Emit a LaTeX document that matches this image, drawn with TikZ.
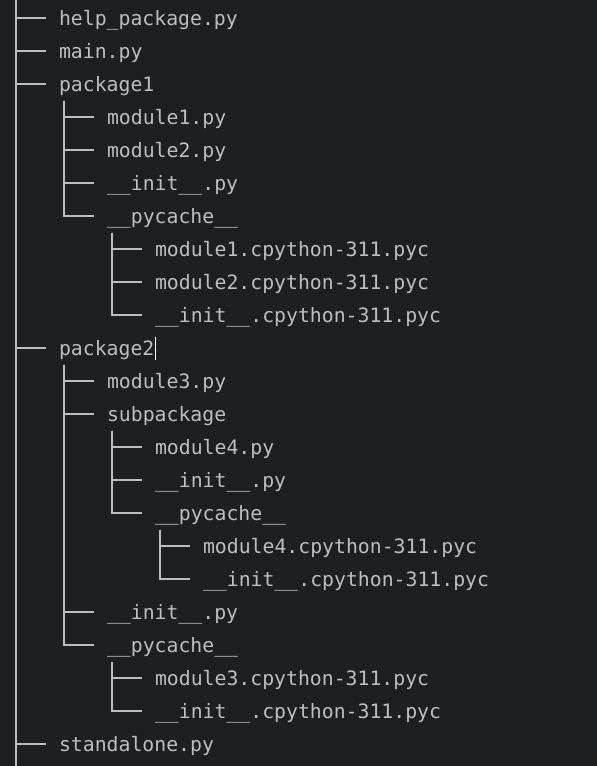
\documentclass[tikz,border=0pt]{standalone}
\usepackage{fontspec}
\newfontfamily\codefont{DejaVu Sans Mono}
\definecolor{bgdark}{HTML}{1E1F22}
\definecolor{fgtext}{HTML}{BCBEC4}
\tikzset{
    every picture/.style = {
        x = 1pt,
        y = -1pt
    },
    item/.style = {
        anchor = west,
        inner sep = 0pt,
        outer sep = 0pt,
        minimum height = 33pt,
        text height = 18pt,
        text depth = 2.6pt,
        text = fgtext,
        font = \codefont\fontsize{19.8}{24}\selectfont
    },
    trunk/.style = {
        draw = fgtext,
        line width = 1.6pt
    },
    tree/.style = {
        trunk,
        shorten > = 13pt
    },
    caret/.style = {
        draw = white,
        line width = 1.6pt
    }
}

\begin{document}
\begin{tikzpicture}
    \fill[bgdark] (0,0) rectangle (597,766);
    \useasboundingbox (0,0) rectangle (597,766);

    \coordinate (top) at (16,0);
    \coordinate (bot) at (16,766);

    \node[item] (help) at (59,18) {help\_package.py};
    \node[item] (main) at (59,51) {main.py};
    \node[item] (pkgone) at (59,84) {package1};
    \node[item] (modone) at (107,117) {module1.py};
    \node[item] (modtwo) at (107,150) {module2.py};
    \node[item] (initone) at (107,183) {\_\_init\_\_.py};
    \node[item] (cacheone) at (107,216) {\_\_pycache\_\_};
    \node[item] (cmodone) at (155,249) {module1.cpython-311.pyc};
    \node[item] (cmodtwo) at (155,282) {module2.cpython-311.pyc};
    \node[item] (cinitone) at (155,315) {\_\_init\_\_.cpython-311.pyc};
    \node[item] (pkgtwo) at (59,348) {package2};
    \node[item] (modthree) at (107,381) {module3.py};
    \node[item] (subpkg) at (107,414) {subpackage};
    \node[item] (modfour) at (155,447) {module4.py};
    \node[item] (initsub) at (155,480) {\_\_init\_\_.py};
    \node[item] (cachesub) at (155,513) {\_\_pycache\_\_};
    \node[item] (cmodfour) at (203,546) {module4.cpython-311.pyc};
    \node[item] (cinitsub) at (203,579) {\_\_init\_\_.cpython-311.pyc};
    \node[item] (inittwo) at (107,612) {\_\_init\_\_.py};
    \node[item] (cachetwo) at (107,645) {\_\_pycache\_\_};
    \node[item] (cmodthree) at (155,678) {module3.cpython-311.pyc};
    \node[item] (cinittwo) at (155,711) {\_\_init\_\_.cpython-311.pyc};
    \node[item] (standalone) at (59,744) {standalone.py};

    % top level
    \draw[trunk] (top) -- (bot);
    \foreach \n in {help, main, pkgone, pkgtwo, standalone}
        \draw[tree] (top |- \n.west) -- (\n.west);

    % package1
    \foreach \n in {modone, modtwo, initone, cacheone}
        \draw[tree] ([xshift=5pt]pkgone.south west) |- (\n.west);
    \foreach \n in {cmodone, cmodtwo, cinitone}
        \draw[tree] ([xshift=5pt]cacheone.south west) |- (\n.west);

    % package2
    \foreach \n in {modthree, subpkg, inittwo, cachetwo}
        \draw[tree] ([xshift=5pt]pkgtwo.south west) |- (\n.west);
    \foreach \n in {modfour, initsub, cachesub}
        \draw[tree] ([xshift=5pt]subpkg.south west) |- (\n.west);
    \foreach \n in {cmodfour, cinitsub}
        \draw[tree] ([xshift=5pt]cachesub.south west) |- (\n.west);
    \foreach \n in {cmodthree, cinittwo}
        \draw[tree] ([xshift=5pt]cachetwo.south west) |- (\n.west);

    % text cursor
    \draw[caret] ([xshift=1pt, yshift=11pt]pkgtwo.east) -- ([xshift=1pt, yshift=-12pt]pkgtwo.east);
\end{tikzpicture}
\end{document}
